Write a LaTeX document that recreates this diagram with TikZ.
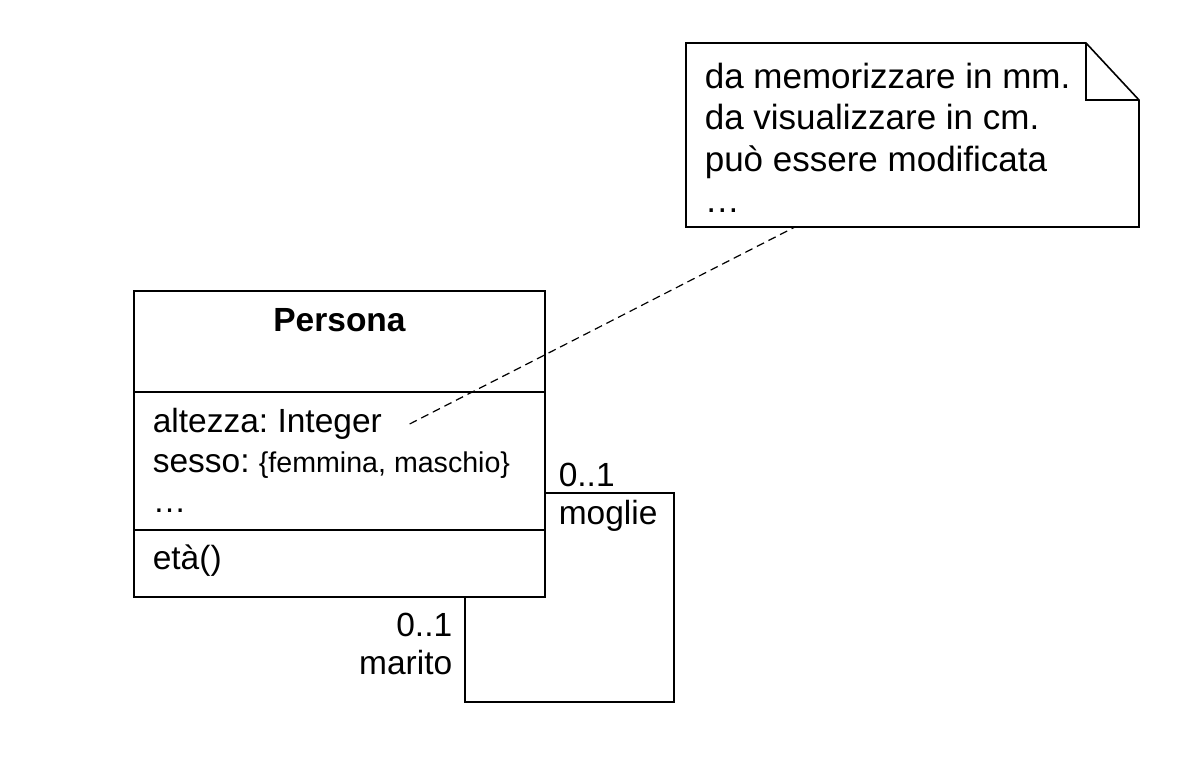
\documentclass[tikz,border=0pt]{standalone}
\usepackage{fontspec}
\setmainfont{Liberation Sans}
\usetikzlibrary{positioning}
\frenchspacing
\newcommand{\umlfont}{\fontsize{16.75pt}{20.5pt}\selectfont}
\newcommand{\umlsmall}{\fontsize{14.3pt}{17pt}\selectfont}
\newcommand{\notefont}{\fontsize{17.5pt}{20.75pt}\selectfont}

\begin{document}
\begin{tikzpicture}[x=0.5pt, y=-0.5pt, line width=0.8pt, font=\umlfont, compart/.style={rectangle, draw, minimum width=205.5pt, inner sep=0pt, outer sep=0pt}, member/.style={anchor=base west, inner sep=0pt}, mult/.style={inner sep=0pt}, notebox/.style={rectangle, minimum width=226.5pt, minimum height=92pt, inner sep=0pt, outer sep=0pt}, anchorline/.style={dash pattern=on 4pt off 2.5pt, line width=0.6pt}]
  \useasboundingbox (0,0) rectangle (1201,758);

  \node[compart, minimum height=50.5pt, anchor=north west] (pname) at (134,291) {};
  \node[compart, minimum height=69pt, below=0pt of pname] (pattr) {};
  \node[compart, minimum height=33.5pt, below=0pt of pattr] (pops) {};

  \node[member, font=\umlfont\bfseries, anchor=base] (pnamelbl) at ([yshift=-20.5pt]pname.north) {Persona};
  \node[member] (altlbl) at ([xshift=9pt, yshift=-20.5pt]pattr.north west) {altezza: Integer};
  \node[member] (sexlbl) at ([xshift=9pt, yshift=-40.5pt]pattr.north west) {sesso: {\umlsmall\{femmina, maschio\}}};
  \node[member] (moreattr) at ([xshift=9pt, yshift=-60.5pt]pattr.north west) {…};
  \node[member] (etalbl) at ([xshift=9pt, yshift=-20pt]pops.north west) {età()};

  \coordinate (wifeend) at ([yshift=-16pt]pattr.east);
  \coordinate (husbend) at ([xshift=62.75pt]pops.south);
  \draw (wifeend) -| ++(129,209) -| (husbend);

  \node[mult, anchor=base west] (wifemult) at ([xshift=6.5pt, yshift=3pt]wifeend) {0..1};
  \node[mult, anchor=base west] (wiferole) at ([xshift=6.5pt, yshift=-16pt]wifeend) {moglie};
  \node[mult, anchor=base east] (husbmult) at ([xshift=-6pt, yshift=-20pt]husbend) {0..1};
  \node[mult, anchor=base east] (husbrole) at ([xshift=-6pt, yshift=-39pt]husbend) {marito};

  % nota
  \node[notebox, anchor=north west] (note) at (686,43) {};
  \draw (note.south west) -- (note.north west) -- ([xshift=-26.5pt]note.north east) -- ([yshift=-28.5pt]note.north east) -- (note.south east) -- cycle;
  \draw ([xshift=-26.5pt]note.north east) |- ([yshift=-28.5pt]note.north east);
  \node[anchor=north west, inner sep=0pt, align=left, font=\notefont] (notetxt) at ([xshift=9pt, yshift=-9.5pt]note.north west) {da memorizzare in mm.\\da visualizzare in cm.\\può essere modificata\\…};

  \coordinate (altend) at ([xshift=13.5pt, yshift=4.5pt]altlbl.base east);
  \coordinate (notefoot) at ([xshift=54.5pt]note.south west);
  \draw[anchorline] (altend) -- (notefoot);
\end{tikzpicture}
\end{document}
